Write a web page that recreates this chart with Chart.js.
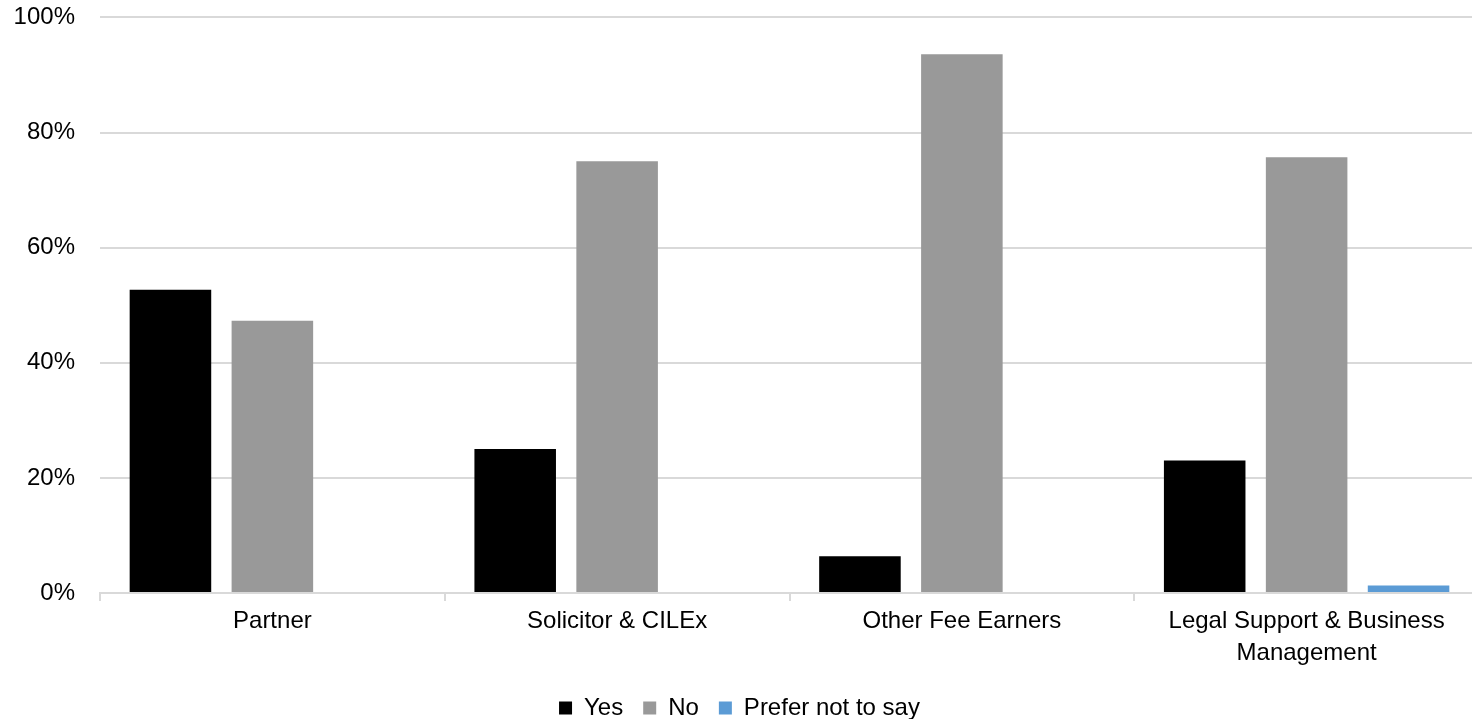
<!DOCTYPE html>
<html>
<head>
<meta charset="utf-8">
<script src="https://cdn.jsdelivr.net/npm/chart.js@4.4.1/dist/chart.umd.min.js"></script>
<style>
  html, body { margin: 0; padding: 0; background: #fff; overflow: hidden; height: 719px; }
  #wrap { width: 1480px; height: 752px; margin-top: -22px; }
</style>
</head>
<body>
<div id="wrap"><canvas id="chart" width="1480" height="752"></canvas></div>
<script>
// --- DATA ---
const categories = ['Partner', 'Solicitor & CILEx', 'Other Fee Earners', ['Legal Support & Business', 'Management']];
const yesValues = [52.7, 25.0, 6.4, 23.0];
const noValues = [47.3, 75.0, 93.6, 75.7];
const preferNotValues = [0, 0, 0, 1.3];
const yTicks = [0, 20, 40, 60, 80, 100];

// --- STYLE ---
const FONT = '"Liberation Sans", Arial, sans-serif';
const FONT_SIZE = 24;
const GRID = '#d9d9d9';

const ctx = document.getElementById('chart').getContext('2d');
new Chart(ctx, {
    type: 'bar',
    data: {
        labels: categories,
        datasets: [
            { label: 'Yes', data: yesValues, backgroundColor: '#000000' },
            { label: 'No', data: noValues, backgroundColor: '#999999' },
            { label: 'Prefer not to say', data: preferNotValues, backgroundColor: '#5b9bd5' }
        ]
    },
    options: {
        responsive: false,
        animation: false,
        devicePixelRatio: 1,
        layout: { padding: { top: 0, right: 1, left: 0, bottom: 0 } },
        datasets: { bar: { categoryPercentage: 0.887, barPercentage: 0.8 } },
        scales: {
            x: {
                grid: { display: true, drawOnChartArea: false, offset: true, color: GRID, tickLength: 8, lineWidth: 2 },
                border: { display: true, color: GRID, width: 2 },
                ticks: { color: '#000', font: { family: FONT, size: FONT_SIZE, lineHeight: 1.33 }, padding: 4, maxRotation: 0, autoSkip: false },
                afterFit: (scale) => { scale.height = 83; }
            },
            y: {
                min: 0,
                max: 100,
                afterBuildTicks: (scale) => { scale.ticks = yTicks.map(v => ({ value: v })); },
                grid: { color: GRID, lineWidth: 2, drawTicks: false },
                border: { display: false },
                ticks: { color: '#000', font: { family: FONT, size: FONT_SIZE }, padding: 25, callback: (v) => v + '%' },
                afterFit: (scale) => { scale.width = 100; }
            }
        },
        plugins: {
            legend: {
                position: 'bottom',
                labels: { color: '#000', font: { family: FONT, size: FONT_SIZE }, boxWidth: 13, boxHeight: 13, padding: 20 }
            },
            tooltip: { enabled: false }
        }
    }
});
</script>
</body>
</html>
